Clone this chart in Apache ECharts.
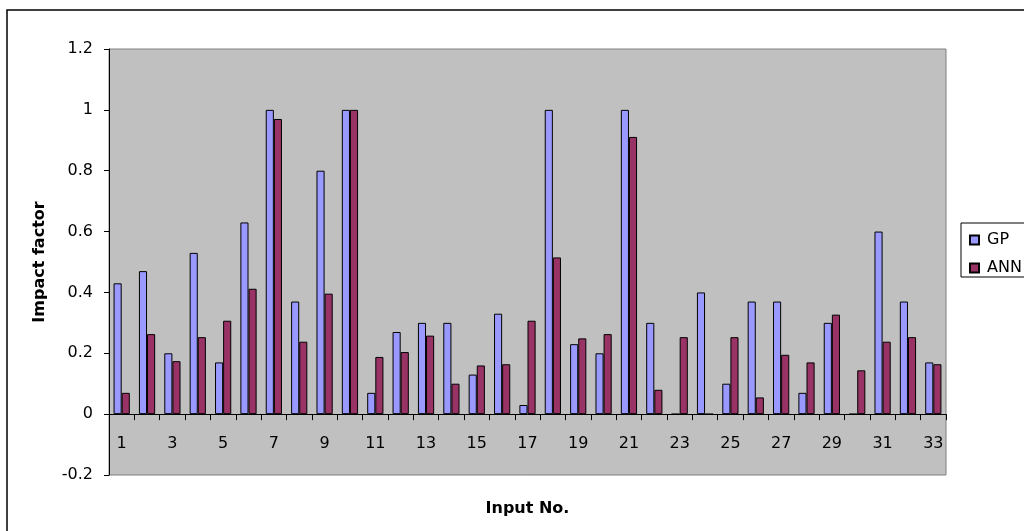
<!DOCTYPE html>
<html>
<head>
<meta charset="utf-8">
<script src="https://cdn.jsdelivr.net/npm/echarts@6/dist/echarts.min.js"></script>
<style>html,body{margin:0;padding:0;background:#fff;}#c{width:1024px;height:531px;}</style>
</head>
<body>
<div id="c"></div>
<script>
var categories = ['1','2','3','4','5','6','7','8','9','10','11','12','13','14','15','16','17','18','19','20','21','22','23','24','25','26','27','28','29','30','31','32','33'];
var gpValues = [0.43,0.47,0.20,0.53,0.17,0.63,1.00,0.37,0.80,1.00,0.07,0.27,0.30,0.30,0.13,0.33,0.03,1.00,0.23,0.20,1.00,0.30,0,0.40,0.10,0.37,0.37,0.07,0.30,0,0.60,0.37,0.17];
var annValues = [0.07,0.263,0.174,0.253,0.307,0.412,0.97,0.238,0.396,1.00,0.188,0.204,0.258,0.10,0.16,0.164,0.307,0.515,0.249,0.263,0.911,0.08,0.253,0,0.253,0.055,0.195,0.17,0.327,0.144,0.238,0.253,0.164];
var yTicks = {min: -0.2, max: 1.2, interval: 0.2};

var chart = echarts.init(document.getElementById('c'));
var font = 'DejaVu Sans, Liberation Sans, Arial, sans-serif';
chart.setOption({
  animation: false,
  backgroundColor: '#ffffff',
  textStyle: {fontFamily: font},
  graphic: [{
    type: 'rect', silent: true, z: -1,
    shape: {x: 7, y: 10, width: 1100, height: 600},
    style: {fill: 'none', stroke: '#000', lineWidth: 1.5}
  }],
  grid: {
    left: 109, top: 49, right: 78, bottom: 56,
    outerBoundsMode: 'none', containLabel: false,
    show: true, backgroundColor: '#C0C0C0', borderColor: '#808080', borderWidth: 1
  },
  legend: {
    orient: 'vertical', left: 961, top: 223,
    backgroundColor: '#fff', borderColor: '#000', borderWidth: 1,
    padding: [9, 8, 1, 8], itemGap: 12, itemWidth: 9, itemHeight: 9,
    icon: 'rect',
    textStyle: {fontFamily: font, fontSize: 16, color: '#000', padding: [0, 0, 0, 3]},
    data: ['GP', 'ANN']
  },
  xAxis: {
    type: 'category', data: categories,
    name: 'Input No.', nameLocation: 'middle', nameGap: 26,
    nameTextStyle: {fontFamily: font, fontSize: 16, fontWeight: 'bold', color: '#000'},
    axisLine: {onZero: true, lineStyle: {color: '#000', width: 1}},
    axisTick: {show: true, interval: 0, length: 6, lineStyle: {color: '#000'}},
    axisLabel: {interval: 1, margin: -39, fontFamily: font, fontSize: 16, color: '#000'},
    splitLine: {show: false}
  },
  yAxis: {
    type: 'value', min: yTicks.min, max: yTicks.max, interval: yTicks.interval,
    name: 'Impact factor', nameLocation: 'middle', nameGap: 61,
    nameTextStyle: {fontFamily: font, fontSize: 16, fontWeight: 'bold', color: '#000'},
    axisLine: {show: true, onZero: false, lineStyle: {color: '#000', width: 1}},
    axisTick: {show: true, length: 5, inside: false, lineStyle: {color: '#000'}},
    axisLabel: {margin: 16, fontFamily: font, fontSize: 16, color: '#000'},
    splitLine: {show: false}
  },
  series: [
    {name: 'GP', type: 'bar', data: gpValues, barGap: '0%', barCategoryGap: '36%',
     itemStyle: {color: '#9999FF', borderColor: '#000', borderWidth: 1}},
    {name: 'ANN', type: 'bar', data: annValues, barGap: '0%', barCategoryGap: '36%',
     itemStyle: {color: '#993366', borderColor: '#000', borderWidth: 1}}
  ]
});
</script>
</body>
</html>
